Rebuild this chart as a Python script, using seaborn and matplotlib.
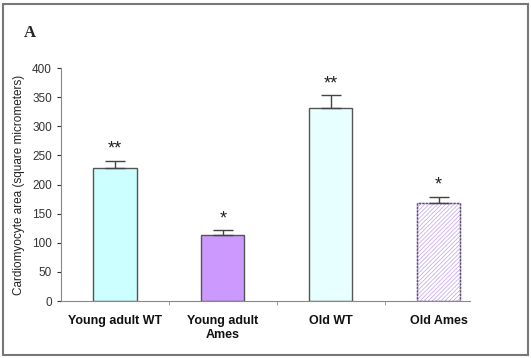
import numpy as np
import pandas as pd
import matplotlib.pyplot as plt
import matplotlib.patches as mpatches
import seaborn as sns

sns.set_style('white')
plt.rcParams['font.family'] = ['Liberation Sans', 'DejaVu Sans']
plt.rcParams['hatch.linewidth'] = 0.5

groups = ['Young adult WT', 'Young adult\nAmes', 'Old WT', 'Old Ames']
area = [228, 113, 332, 168]
sem = [13, 9, 21, 11]
stars = ['**', '*', '**', '*']
colors = ['#ccffff', '#cc99ff', '#e8ffff', '#ffffff']

df = pd.DataFrame({'group': groups, 'area': area})

fig = plt.figure(figsize=(5.31, 3.58), dpi=100)
ax = fig.add_axes([0.1149, 0.1592, 0.7701, 0.6508])

sns.barplot(data=df, x='group', y='area', hue='group', palette=colors, saturation=1,
            width=0.4, edgecolor='#555555', linewidth=1.0, legend=False, ax=ax)

# hatch the last bar (Old Ames)
last = ax.patches[3]
last.set_hatch('////////')
last.set_edgecolor('#c0a0ee')
ax.add_patch(mpatches.Rectangle(last.get_xy(), last.get_width(), last.get_height(),
                                fill=False, edgecolor='#555555', linewidth=1.0,
                                linestyle=(0, (1.5, 1))))

# upper error bars only
ax.errorbar(range(len(area)), area, yerr=[np.zeros(len(sem)), sem], fmt='none',
            ecolor='#444444', elinewidth=1.0, capsize=7, capthick=1.0)

for i, (v, e, s) in enumerate(zip(area, sem, stars)):
    ax.text(i, v + e + 5, s, ha='center', va='bottom', fontsize=13, color='#222222')

ax.set_ylim(0, 400)
ax.set_xlim(-0.5, 3.29)
ax.set_yticks(range(0, 401, 50))
ax.tick_params(axis='y', labelsize=8.5, colors='#333333', length=3, direction='out', left=True)
ax.set_xticks([0.5, 1.5, 2.5], minor=True)
ax.tick_params(axis='x', which='major', length=0, pad=10)
ax.tick_params(axis='x', which='minor', length=3, direction='out', color='#888888', bottom=True)
for lbl in ax.get_xticklabels():
    lbl.set_fontweight('bold')
    lbl.set_fontsize(9)
    lbl.set_color('#111111')
for lbl in ax.get_yticklabels():
    lbl.set_color('#333333')

ax.set_xlabel('')
ax.set_ylabel('Cardiomyocyte area (square micrometers)', fontsize=8.5, color='#222222', labelpad=5)
sns.despine(ax=ax)
ax.spines['left'].set_color('#888888')
ax.spines['bottom'].set_color('#888888')
ax.spines['left'].set_linewidth(0.8)
ax.spines['bottom'].set_linewidth(0.8)

fig.text(24 / 531, 1 - 33 / 358, 'A', fontsize=12, fontweight='bold',
         family=['Liberation Serif', 'DejaVu Serif'], ha='left', va='center')

# outer frame
fig.add_artist(mpatches.Rectangle((3 / 531, 3 / 358), 525 / 531, 351 / 358,
                                  transform=fig.transFigure, fill=False,
                                  edgecolor='#777777', linewidth=1.5))

fig.savefig('out.png', dpi=100)
